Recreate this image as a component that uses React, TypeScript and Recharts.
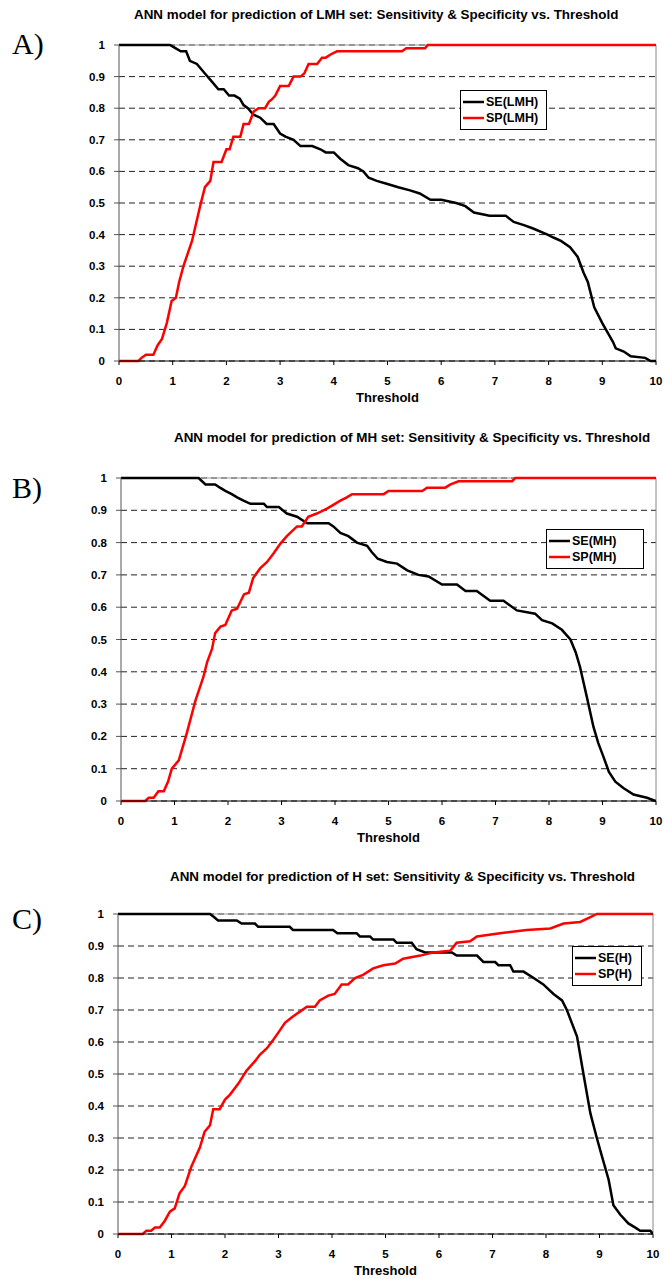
import React from 'react';
import { LineChart, Line, XAxis, YAxis, CartesianGrid, ReferenceLine, Legend } from 'recharts';

type P = [number, number];

const X_TICKS = [0, 1, 2, 3, 4, 5, 6, 7, 8, 9, 10];
const Y_TICKS = [0, 0.1, 0.2, 0.3, 0.4, 0.5, 0.6, 0.7, 0.8, 0.9, 1];

const SE_LMH: P[] = [
  [0, 1], [0.95, 1], [1.05, 0.99], [1.15, 0.98], [1.25, 0.98], [1.32, 0.95], [1.45, 0.94], [1.6, 0.91],
  [1.75, 0.88], [1.85, 0.86], [1.95, 0.86], [2.05, 0.84], [2.15, 0.84], [2.25, 0.83], [2.32, 0.81],
  [2.4, 0.8], [2.5, 0.78], [2.63, 0.77], [2.75, 0.75], [2.88, 0.75], [3.0, 0.72], [3.1, 0.71],
  [3.25, 0.7], [3.38, 0.68], [3.6, 0.68], [3.75, 0.67], [3.85, 0.66], [4.0, 0.66], [4.12, 0.64],
  [4.27, 0.62], [4.45, 0.61], [4.55, 0.6], [4.65, 0.58], [4.8, 0.57], [5.0, 0.56], [5.2, 0.55],
  [5.42, 0.54], [5.6, 0.53], [5.8, 0.51], [6.0, 0.51], [6.28, 0.5], [6.45, 0.49], [6.61, 0.47],
  [6.9, 0.46], [7.2, 0.46], [7.35, 0.44], [7.54, 0.43], [7.7, 0.42], [7.98, 0.4], [8.1, 0.39],
  [8.23, 0.38], [8.4, 0.36], [8.54, 0.33], [8.65, 0.28], [8.73, 0.25], [8.85, 0.17], [9.0, 0.12],
  [9.1, 0.09], [9.2, 0.06], [9.25, 0.04], [9.4, 0.03], [9.53, 0.015], [9.8, 0.01], [9.9, 0], [10, 0],
];
const SP_LMH: P[] = [
  [0, 0], [0.36, 0], [0.42, 0.01], [0.5, 0.02], [0.64, 0.02], [0.72, 0.05], [0.8, 0.07], [0.89, 0.12],
  [0.98, 0.19], [1.06, 0.2], [1.12, 0.25], [1.2, 0.3], [1.36, 0.38], [1.51, 0.49], [1.6, 0.55],
  [1.7, 0.57], [1.76, 0.63], [1.91, 0.63], [2.0, 0.67], [2.06, 0.67], [2.13, 0.71], [2.26, 0.71],
  [2.32, 0.75], [2.42, 0.75], [2.51, 0.79], [2.6, 0.8], [2.72, 0.8], [2.79, 0.82], [2.86, 0.83],
  [2.91, 0.84], [3.0, 0.87], [3.16, 0.87], [3.25, 0.9], [3.38, 0.9], [3.45, 0.91], [3.53, 0.94],
  [3.69, 0.94], [3.78, 0.96], [3.85, 0.96], [3.94, 0.97], [4.06, 0.98], [5.27, 0.98], [5.35, 0.99],
  [5.7, 0.99], [5.75, 1], [10, 1],
];

const SE_MH: P[] = [
  [0, 1], [1.45, 1], [1.58, 0.98], [1.76, 0.98], [1.85, 0.97], [1.95, 0.96], [2.07, 0.95], [2.17, 0.94],
  [2.29, 0.93], [2.42, 0.92], [2.67, 0.92], [2.73, 0.91], [2.95, 0.91], [3.1, 0.89], [3.29, 0.88],
  [3.48, 0.86], [3.88, 0.86], [3.97, 0.85], [4.1, 0.83], [4.25, 0.82], [4.41, 0.8], [4.6, 0.79],
  [4.69, 0.77], [4.8, 0.75], [4.97, 0.74], [5.16, 0.735], [5.35, 0.714], [5.56, 0.7], [5.75, 0.695],
  [6.0, 0.67], [6.28, 0.67], [6.44, 0.65], [6.65, 0.65], [6.9, 0.62], [7.15, 0.62], [7.4, 0.59],
  [7.74, 0.58], [7.87, 0.56], [8.06, 0.55], [8.24, 0.53], [8.4, 0.5], [8.5, 0.46], [8.58, 0.415],
  [8.71, 0.32], [8.83, 0.23], [8.92, 0.18], [9.02, 0.136], [9.12, 0.09], [9.24, 0.06], [9.39, 0.04],
  [9.58, 0.02], [9.83, 0.01], [10, 0],
];
const SP_MH: P[] = [
  [0, 0], [0.45, 0], [0.52, 0.01], [0.61, 0.01], [0.7, 0.03], [0.8, 0.03], [0.88, 0.06], [0.95, 0.1],
  [1.08, 0.126], [1.23, 0.21], [1.39, 0.31], [1.54, 0.384], [1.61, 0.43], [1.7, 0.47], [1.76, 0.52],
  [1.86, 0.54], [1.95, 0.545], [2.07, 0.59], [2.17, 0.595], [2.23, 0.616], [2.3, 0.64], [2.39, 0.645],
  [2.47, 0.69], [2.6, 0.72], [2.73, 0.74], [2.85, 0.766], [2.98, 0.797], [3.1, 0.82], [3.29, 0.85],
  [3.38, 0.85], [3.5, 0.88], [3.66, 0.89], [3.85, 0.905], [4.0, 0.92], [4.1, 0.93], [4.22, 0.94],
  [4.32, 0.95], [4.91, 0.95], [5.0, 0.96], [5.63, 0.96], [5.72, 0.97], [6.06, 0.97], [6.16, 0.98],
  [6.31, 0.99], [7.31, 0.99], [7.37, 1], [10, 1],
];

const SE_H: P[] = [
  [0, 1], [1.72, 1], [1.8, 0.99], [1.87, 0.98], [2.22, 0.98], [2.31, 0.97], [2.56, 0.97], [2.62, 0.96],
  [3.21, 0.96], [3.27, 0.95], [4.02, 0.95], [4.1, 0.94], [4.46, 0.94], [4.52, 0.93], [4.71, 0.93],
  [4.77, 0.92], [5.15, 0.92], [5.21, 0.91], [5.49, 0.91], [5.58, 0.89], [5.74, 0.88], [6.24, 0.88],
  [6.33, 0.87], [6.71, 0.87], [6.83, 0.85], [7.05, 0.85], [7.11, 0.84], [7.33, 0.84], [7.39, 0.82],
  [7.58, 0.82], [7.77, 0.8], [7.95, 0.78], [8.14, 0.75], [8.3, 0.73], [8.39, 0.7], [8.58, 0.617],
  [8.7, 0.5], [8.83, 0.377], [8.95, 0.3], [9.05, 0.24], [9.17, 0.17], [9.26, 0.09], [9.39, 0.06],
  [9.54, 0.033], [9.67, 0.02], [9.76, 0.01], [9.95, 0.01], [10, 0],
];
const SP_H: P[] = [
  [0, 0], [0.46, 0], [0.53, 0.01], [0.62, 0.01], [0.69, 0.02], [0.78, 0.02], [0.87, 0.04], [0.97, 0.07],
  [1.06, 0.08], [1.15, 0.127], [1.25, 0.15], [1.37, 0.21], [1.53, 0.27], [1.62, 0.32], [1.72, 0.34],
  [1.78, 0.39], [1.9, 0.39], [2.0, 0.42], [2.09, 0.435], [2.25, 0.47], [2.4, 0.51], [2.56, 0.54],
  [2.65, 0.56], [2.78, 0.58], [2.9, 0.606], [3.0, 0.63], [3.12, 0.66], [3.27, 0.68], [3.4, 0.695],
  [3.53, 0.71], [3.68, 0.71], [3.77, 0.73], [3.93, 0.745], [4.05, 0.75], [4.18, 0.78], [4.3, 0.78],
  [4.43, 0.8], [4.58, 0.81], [4.77, 0.83], [4.96, 0.84], [5.18, 0.845], [5.33, 0.86], [5.65, 0.87],
  [5.9, 0.88], [6.21, 0.885], [6.33, 0.91], [6.58, 0.915], [6.71, 0.93], [7.14, 0.94], [7.64, 0.95],
  [8.08, 0.955], [8.33, 0.97], [8.64, 0.975], [8.83, 0.99], [8.95, 1], [10, 1],
];

const toPts = (a: P[]) => a.map(([x, y]) => ({ x, y }));

const FONT = '"Liberation Sans", Arial, sans-serif';

type Cfg = {
  title: string;
  titleLeft: number;
  titleTop: number;
  letter: string;
  letterTop: number;
  plotTop: number;
  plotH: number;
  plotLeft: number;
  plotRight: number;
  legendLeft: number;
  legendTop: number;
  legendW: number;
  seName: string;
  spName: string;
  se: P[];
  sp: P[];
};

const PANELS: Cfg[] = [
  {
    title: 'ANN model for prediction of LMH set: Sensitivity & Specificity vs. Threshold',
    titleLeft: 134, titleTop: 7, letter: 'A)', letterTop: 27,
    plotTop: 45, plotH: 316, plotLeft: 119, plotRight: 656,
    legendLeft: 460, legendTop: 90, legendW: 87,
    seName: 'SE(LMH)', spName: 'SP(LMH)', se: SE_LMH, sp: SP_LMH,
  },
  {
    title: 'ANN model for prediction of MH set: Sensitivity & Specificity vs. Threshold',
    titleLeft: 174, titleTop: 430, letter: 'B)', letterTop: 471,
    plotTop: 478, plotH: 323, plotLeft: 121, plotRight: 656,
    legendLeft: 546, legendTop: 529, legendW: 98,
    seName: 'SE(MH)', spName: 'SP(MH)', se: SE_MH, sp: SP_MH,
  },
  {
    title: 'ANN model for prediction of H set: Sensitivity & Specificity vs. Threshold',
    titleLeft: 170, titleTop: 869, letter: 'C)', letterTop: 902,
    plotTop: 914, plotH: 320, plotLeft: 118, plotRight: 653,
    legendLeft: 572, legendTop: 946, legendW: 70,
    seName: 'SE(H)', spName: 'SP(H)', se: SE_H, sp: SP_H,
  },
];

const tickStyle = { fill: '#000', fontSize: 11.5, fontWeight: 'bold', fontFamily: FONT };

function Panel({ cfg }: { cfg: Cfg }) {
  const top = cfg.plotTop - 10;
  const height = 10 + cfg.plotH + 44;
  const legendContent = () => (
    <div
      style={{
        border: '1px solid #000',
        background: '#fff',
        padding: '3px 4px 3px 2px',
        width: cfg.legendW - 8,
        fontFamily: FONT,
        fontSize: 12.5,
        fontWeight: 'bold',
        lineHeight: '16px',
        color: '#000',
        boxSizing: 'content-box',
      }}
    >
      {[
        { name: cfg.seName, color: '#000' },
        { name: cfg.spName, color: '#ff0000' },
      ].map((e) => (
        <div key={e.name} style={{ display: 'flex', alignItems: 'center', whiteSpace: 'nowrap' }}>
          <svg width={21} height={6} style={{ marginRight: 2 }}>
            <line x1={0} y1={3} x2={21} y2={3} stroke={e.color} strokeWidth={2.5} />
          </svg>
          <span>{e.name}</span>
        </div>
      ))}
    </div>
  );
  return (
    <>
      <div
        style={{
          position: 'absolute', left: cfg.titleLeft, top: cfg.titleTop, whiteSpace: 'nowrap',
          fontFamily: FONT, fontSize: 13.4, fontWeight: 'bold', lineHeight: '16px', color: '#000',
        }}
      >
        {cfg.title}
      </div>
      <div
        style={{
          position: 'absolute', left: 12, top: cfg.letterTop, fontFamily: '"Liberation Serif", "Times New Roman", serif',
          fontSize: 30, lineHeight: '34px', color: '#000',
        }}
      >
        {cfg.letter}
      </div>
      <div style={{ position: 'absolute', left: 0, top }}>
        <LineChart
          width={663}
          height={height}
          margin={{ top: 10, right: 663 - cfg.plotRight, bottom: 0, left: cfg.plotLeft - 30 }}
        >
          <CartesianGrid vertical={false} stroke="#222" strokeDasharray="6 4" />
          <XAxis
            type="number"
            dataKey="x"
            domain={[0, 10]}
            ticks={X_TICKS}
            interval={0}
            allowDataOverflow
            tick={tickStyle}
            tickSize={4}
            tickMargin={12}
            stroke="#000"
            height={44}
            label={{ value: 'Threshold', position: 'insideBottom', offset: 3, fill: '#000', fontSize: 13, fontWeight: 'bold', fontFamily: FONT }}
          />
          <YAxis
            type="number"
            domain={[0, 1]}
            ticks={Y_TICKS}
            interval={0}
            width={30}
            tick={tickStyle}
            tickSize={5}
            tickMargin={9}
            stroke="#555"
            tickFormatter={(v: number) => (v === 0 || v === 1 ? String(v) : v.toFixed(1))}
          />
          <ReferenceLine y={1} stroke="#999" strokeWidth={1} />
          <ReferenceLine x={10} stroke="#888" strokeWidth={1} />
          <Line
            data={toPts(cfg.se)}
            dataKey="y"
            name={cfg.seName}
            type="linear"
            stroke="#000"
            strokeWidth={2.5}
            dot={false}
            isAnimationActive={false}
          />
          <Line
            data={toPts(cfg.sp)}
            dataKey="y"
            name={cfg.spName}
            type="linear"
            stroke="#ff0000"
            strokeWidth={2.5}
            dot={false}
            isAnimationActive={false}
          />
          <Legend
            layout="vertical"
            align="center"
            verticalAlign="middle"
            content={legendContent}
            wrapperStyle={{ left: cfg.legendLeft, top: cfg.legendTop - top, width: 'auto', height: 'auto' }}
          />
        </LineChart>
      </div>
    </>
  );
}

export default function App() {
  return (
    <div style={{ position: 'absolute', left: 0, top: 0, width: 663, height: 1279, background: '#fff' }}>
      {PANELS.map((p) => (
        <Panel key={p.letter} cfg={p} />
      ))}
    </div>
  );
}
